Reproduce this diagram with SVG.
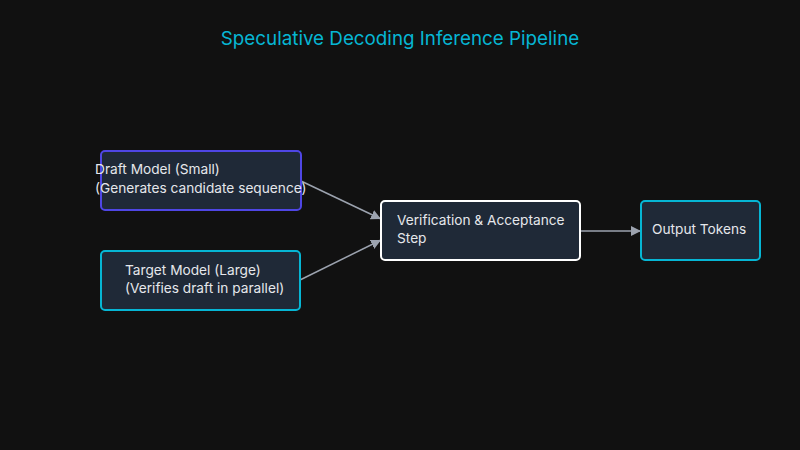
<svg xmlns="http://www.w3.org/2000/svg" width="800" height="450" viewBox="0 0 800 450">
<defs>
<style>
.node rect{fill:#1f2937;stroke-width:2}
.lbl{font-family:Inter,"Liberation Sans",sans-serif;font-size:13.7px;fill:#e5e7eb}
.edge{stroke:#9ca3af;stroke-width:1.5;fill:none}
</style>
<marker id="ah2" viewBox="0 0 10 10" refX="10" refY="5" markerWidth="10" markerHeight="10" markerUnits="userSpaceOnUse" orient="auto"><path d="M0,0 L10,5 L0,10 z" fill="#9ca3af"/></marker>
</defs>
<rect width="800" height="450" fill="#111111"/>
<text x="400" y="45" text-anchor="middle" font-family="Inter,'Liberation Sans',sans-serif" font-size="18.8" fill="#06b6d4">Speculative Decoding Inference Pipeline</text>
<g id="connectors">
<line class="edge" x1="301" y1="181" x2="381" y2="219" stroke-width="1" marker-end="url(#ah2)"/>
<line class="edge" x1="300" y1="280" x2="381" y2="240" marker-end="url(#ah2)"/>
<line class="edge" x1="580" y1="231" x2="641" y2="231" stroke-width="2" marker-end="url(#ah2)"/>
</g>
<g id="draft" class="node"><rect x="101" y="151" width="200" height="59" rx="4" stroke="#4f46e5"/><text class="lbl" x="95" y="174">Draft Model (Small)</text><text class="lbl" x="95" y="193">(Generates candidate sequence)</text></g>
<g id="target" class="node"><rect x="101" y="251" width="199" height="59" rx="4" stroke="#06b6d4"/><text class="lbl" x="125" y="275">Target Model (Large)</text><text class="lbl" x="125" y="293">(Verifies draft in parallel)</text></g>
<g id="verify" class="node"><rect x="381" y="201" width="199" height="59" rx="4" stroke="#ffffff"/><text class="lbl" x="397" y="225">Verification &amp; Acceptance</text><text class="lbl" x="397" y="243">Step</text></g>
<g id="output" class="node"><rect x="641" y="201" width="119" height="59" rx="4" stroke="#06b6d4"/><text class="lbl" x="652" y="234">Output Tokens</text></g>
</svg>
